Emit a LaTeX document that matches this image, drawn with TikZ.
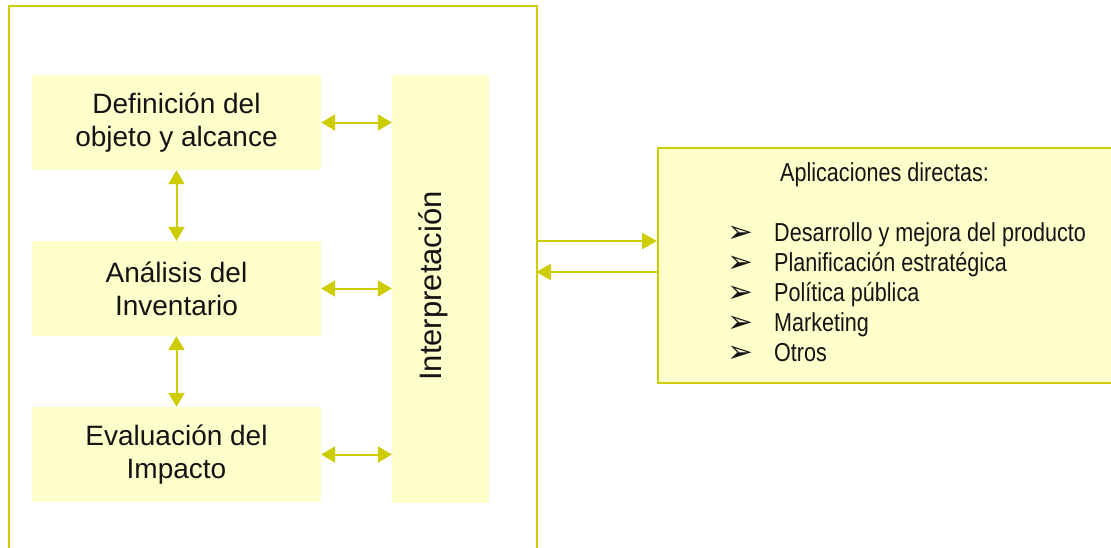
\documentclass[tikz,border=0pt]{standalone}
\usepackage{fontspec}
\setmainfont{Liberation Sans}
\newfontfamily\narrowfont[FakeStretch=0.83]{Liberation Sans}
\newfontfamily\dingfont{DejaVu Sans}
\usetikzlibrary{arrows.meta}
\definecolor{boxfill}{HTML}{FFFFCC}
\definecolor{linkcol}{HTML}{CCCC00}
\definecolor{inkcol}{HTML}{141414}
\newcommand{\appbullet}{\makebox[47pt][l]{\raisebox{-1pt}{\dingfont\fontsize{31}{30}\selectfont ➢}}}
\tikzset{
  stage/.style={fill=boxfill, draw=none, inner sep=0pt, align=center,
    text=inkcol, font=\fontsize{28}{33}\selectfont,
    minimum width=289pt},
  link/.style={draw=linkcol, line width=2pt, {Triangle[length=14pt,width=16pt]}-{Triangle[length=14pt,width=16pt]}},
  oneway/.style={draw=linkcol, line width=2pt, -{Triangle[length=15pt,width=16pt]}},
  frame/.style={draw=linkcol, line width=2pt, fill=none},
}
\begin{document}
\begin{tikzpicture}[x=1pt,y=-1pt]
\clip (0,0) rectangle (1111,547);
\fill[white] (0,0) rectangle (1111,547);

% outer frame around the phases (runs past the lower edge)
\node[frame, inner sep=0pt, minimum width=528pt, minimum height=570pt, anchor=north west] (outer) at (8,5) {};

% phase boxes
\node[stage, minimum height=95pt] (def) at (176.5,122.5) {Definición del\\objeto y alcance};
\node[stage, minimum height=95pt] (ana) at (176.5,288.5) {Análisis del\\Inventario};
\node[stage, minimum height=95pt] (eva) at (176.5,454.5) {Evaluación del\\Impacto};

% interpretation column
\node[fill=boxfill, inner sep=0pt, minimum width=97pt, minimum height=428pt] (interp) at (440.5,289) {};
\node[rotate=90, text=inkcol, font=\fontsize{31}{34}\selectfont, inner sep=0pt] (interptext) at (433,286) {Interpretación};

% applications box
\node[fill=boxfill, draw=linkcol, line width=1.5pt, inner sep=0pt, minimum width=454pt, minimum height=235pt, anchor=north west] (apps) at (657,147) {};
\node[anchor=west, text=inkcol, font=\narrowfont\fontsize{26}{30}\selectfont, inner sep=0pt] (appstitle) at (780,175) {Aplicaciones directas:};
\node[anchor=north west, align=left, text=inkcol, font=\narrowfont\fontsize{26}{30}\selectfont, inner sep=0pt] (appslist) at (727,222) {%
  \appbullet Desarrollo y mejora del producto\\
  \appbullet Planificación estratégica\\
  \appbullet Política pública\\
  \appbullet Marketing\\
  \appbullet Otros};

% links between phases
\draw[link] (def.south) -- (ana.north);
\draw[link] (ana.south) -- (eva.north);
\draw[link] (def.east) -- (def.east -| interp.west);
\draw[link] (ana.east) -- (ana.east -| interp.west);
\draw[link] (eva.east) -- (eva.east -| interp.west);

% links between the frame and the applications
\coordinate (outA) at (536,241);
\coordinate (outB) at (536,272);
\draw[oneway] (outA) -- (outA -| apps.west);
\draw[oneway] (outB -| apps.west) -- (outB);
\end{tikzpicture}
\end{document}
